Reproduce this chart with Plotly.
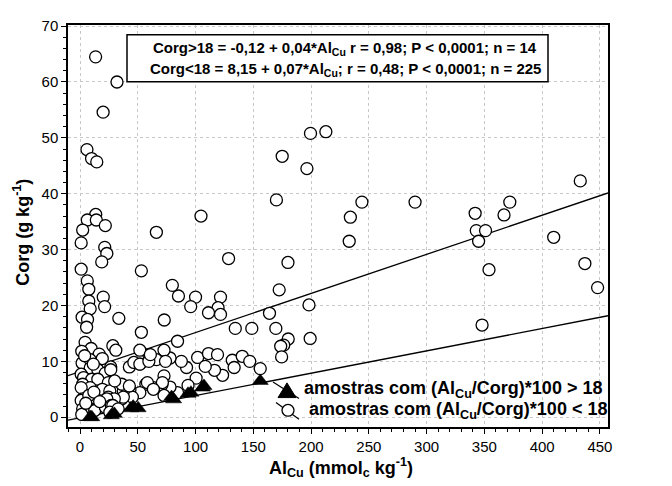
import plotly.graph_objects as go

# ---- data ----
circ_x = [13.5, 32.0, 20.0, 6.0, 10.0, 14.5, 13.6, 6.3, 14.1, 21.9, 2.3, 1.0, 21.4, 23.2, 18.8, 1.0, 6.3,
          7.6, 7.6, 8.8, 1.8, 6.5, 5.7, 20.1, 21.3, 33.6,
          104.7, 66.1, 128.6, 53.1, 79.9, 85.2, 100.0, 95.8, 121.6, 119.5, 121.6, 111.2, 72.9, 53.1, 84.4,
          199.5, 212.8, 175.0, 196.4, 433.0, 170.0, 244.0, 290.0, 372.0, 342.0, 367.0, 234.0, 343.0, 351.0,
          345.0, 410.0, 233.0, 180.0, 354.0, 437.0, 448.0, 172.4, 198.2, 164.0, 134.4, 148.7, 169.5, 348.0,
          199.2, 180.2, 176.3, 173.7, 174.5, 101.8, 111.2, 119.0, 131.8, 140.4, 146.9, 156.0, 133.4, 123.4,
          116.4, 108.4, 92.2, 87.7, 77.9, 72.7, 66.1, 59.6, 51.8, 51.8, 42.7, 46.6, 51.8, 59.6, 74.0,
          100.5, 93.5, 84.4, 77.9, 72.7, 70.9, 63.5, 57.0, 51.8, 43.2, 45.3, 72.7, 37.5, 36.2, 36.2, 37.5,
          4.4, 9.6, 16.6, 19.3, 28.4, 31.0, 1.8, 8.8, 8.8, 1.0, 15.4, 21.9, 26.6, 3.1, 10.2, 15.4, 24.5,
          2.3, 19.3, 25.8, 8.8, 1.0, 24.5, 29.7, 23.2, 2.3, 1.0, 7.6, 2.3, 8.8, 14.1, 12.7, 21.9, 27.1,
          28.4, 25.8, 42.7, 58.3, 71.3, 63.5, 26.6, 60.9, 1.5, 1.5, 5.0, 12.0, 17.0, 33.0, 30.0, 11.5, 4.0]
circ_y = [64.5, 60.0, 54.6, 47.9, 46.3, 45.7, 36.3, 35.3, 35.3, 34.3, 33.5, 31.2, 30.4, 29.3, 27.8, 26.5, 24.4,
          22.9, 20.8, 19.4, 17.9, 17.5, 16.1, 21.5, 19.8, 17.7,
          36.0, 33.1, 28.4, 26.2, 23.6, 21.7, 21.5, 19.8, 21.5, 19.6, 18.4, 18.7, 17.4, 15.2, 13.6,
          50.8, 51.1, 46.7, 44.5, 42.3, 38.9, 38.5, 38.5, 38.5, 36.5, 36.2, 35.8, 33.4, 33.4,
          31.5, 32.2, 31.5, 27.7, 26.4, 27.5, 23.2, 22.8, 20.1, 18.6, 15.9, 15.9, 15.9, 16.5,
          14.1, 14.0, 12.9, 12.7, 10.8, 10.7, 11.4, 11.2, 10.2, 10.9, 10.0, 8.7, 8.9, 7.5,
          8.4, 9.1, 8.9, 10.0, 10.6, 12.0, 10.3, 11.2, 12.0, 9.5, 9.0, 9.8, 9.5, 10.0, 10.0,
          7.0, 5.7, 4.4, 5.4, 7.4, 5.8, 5.3, 5.9, 4.4, 4.9, 3.6, 3.9, 4.7, 5.9, 3.3, 3.6,
          13.4, 12.3, 11.3, 10.5, 12.8, 12.0, 9.7, 10.3, 8.8, 7.7, 8.5, 7.9, 9.0, 7.1, 6.8, 6.8, 6.2,
          5.9, 5.0, 4.7, 5.3, 5.3, 3.6, 3.3, 3.3, 3.3, 3.0, 3.9, 1.5, 1.5, 1.5, 1.2, 1.8, 2.1,
          2.1, 0.9, 5.6, 6.2, 6.2, 5.0, 8.5, 11.2, 0.5, 11.8, 2.5, 4.5, 2.8, 1.5, 6.5, 9.5, 11.0]

tri_x = [8.8, 10.2, 27.1, 29.7, 44.0, 46.0, 50.3, 79.2, 81.0, 93.5, 96.0, 106.0, 107.3, 156.0]
tri_y = [0.05, 0.0, 0.35, 0.6, 1.6, 1.9, 1.6, 3.6, 3.2, 4.2, 4.4, 5.3, 5.6, 6.5]

# regression lines from the equations shown in the chart: intercept, slope
line_names = ["Corg<18", "Corg>18"]
line_intercepts = [8.15, -0.12]
line_slopes = [0.07, 0.04]
line_x = [-10.4, 457]

x_ticks = [0, 50, 100, 150, 200, 250, 300, 350, 400, 450]
y_ticks = [0, 10, 20, 30, 40, 50, 60, 70]

eq_lines = ["Corg>18 = -0,12 + 0,04*Al<sub>Cu</sub> r = 0,98; P < 0,0001; n = 14",
            "Corg<18 = 8,15 + 0,07*Al<sub>Cu</sub>; r = 0,48; P < 0,0001; n = 225"]
legend_labels = ["amostras com (Al<sub>Cu</sub>/Corg)*100 > 18",
                 " amostras com (Al<sub>Cu</sub>/Corg)*100 < 18"]

# ---- layout geometry (screen pixels; the page body adds an 8 px offset) ----
OFF = 8
W, H = 672 - OFF, 486 - OFF
L, R, T, B = 68, 608, 17, 427          # plot frame on screen


def px(x):
    return (x - L) / (R - L)


def py(y):
    return (B - y) / (B - T)


FONT = "Liberation Sans, Arial, sans-serif"

fig = go.Figure()

for b0, b1 in zip(line_intercepts, line_slopes):
    fig.add_trace(go.Scatter(x=line_x, y=[b0 + b1 * v for v in line_x], mode="lines",
                             line=dict(color="black", width=1.3), showlegend=False,
                             hoverinfo="skip"))

fig.add_trace(go.Scatter(x=circ_x, y=circ_y, mode="markers", showlegend=False,
                         marker=dict(symbol="circle", size=12, color="white",
                                     line=dict(color="black", width=1.3))))
fig.add_trace(go.Scatter(x=tri_x, y=tri_y, mode="markers", showlegend=False,
                         marker=dict(symbol="triangle-up", size=14, color="black",
                                     line=dict(color="black", width=0.5))))

axis_common = dict(showline=True, linecolor="black", linewidth=1.5, mirror=True,
                   ticks="outside", ticklen=5, tickcolor="black", tickwidth=1,
                   showgrid=True, gridcolor="#c8c8c8", griddash="dot", gridwidth=1,
                   zeroline=False, tickfont=dict(family=FONT, size=15, color="black"))

fig.update_xaxes(range=[-10.4, 457], tickvals=x_ticks, ticktext=[str(v) for v in x_ticks],
                 minor=dict(dtick=10, tick0=0, ticks="outside", ticklen=3, tickcolor="black",
                            showgrid=False),
                 **axis_common)
fig.update_yaxes(range=[-1.75, 70.2], tickvals=y_ticks, ticktext=[str(v) for v in y_ticks],
                 minor=dict(dtick=2, tick0=0, ticks="outside", ticklen=3, tickcolor="black",
                            showgrid=False),
                 **axis_common)

shapes = []
# equation box
shapes.append(dict(type="rect", xref="paper", yref="paper", x0=px(127), x1=px(548),
                   y0=py(75), y1=py(27), line=dict(color="black", width=1.5),
                   fillcolor="white", layer="above"))
# legend symbols: diagonal segments
shapes.append(dict(type="line", xref="paper", yref="paper", x0=px(273), y0=py(381),
                   x1=px(299), y1=py(398), line=dict(color="black", width=1.2)))
shapes.append(dict(type="line", xref="paper", yref="paper", x0=px(276), y0=py(402),
                   x1=px(299), y1=py(419), line=dict(color="black", width=1.2)))
# triangle
tri_path = "M {} {} L {} {} L {} {} Z".format(px(287), py(382), px(278), py(397), px(296), py(397))
shapes.append(dict(type="path", xref="paper", yref="paper", path=tri_path,
                   fillcolor="black", line=dict(color="black", width=1)))
# circle
shapes.append(dict(type="circle", xref="paper", yref="paper", x0=px(282), x1=px(294),
                   y0=py(416), y1=py(404), fillcolor="white",
                   line=dict(color="black", width=1.3)))

annotations = []
eq_y = [41, 62]
for txt, yy in zip(eq_lines, eq_y):
    annotations.append(dict(xref="paper", yref="paper", x=px(345), y=py(yy), text="<b>" + txt + "</b>",
                            showarrow=False, xanchor="center", yanchor="middle",
                            font=dict(family=FONT, size=15, color="black")))
leg_pos = [(302, 389), (302, 410)]
for txt, (lx, ly) in zip(legend_labels, leg_pos):
    annotations.append(dict(xref="paper", yref="paper", x=px(lx), y=py(ly), text="<b>" + txt + "</b>",
                            showarrow=False, xanchor="left", yanchor="middle",
                            font=dict(family=FONT, size=18, color="black")))
annotations.append(dict(xref="paper", yref="paper", x=px(341), y=py(468),
                        text="<b>Al<sub>Cu</sub> (mmol<sub>c</sub> kg<sup>-1</sup>)</b>",
                        showarrow=False, xanchor="center", yanchor="middle",
                        font=dict(family=FONT, size=18, color="black")))
annotations.append(dict(xref="paper", yref="paper", x=px(22), y=py(229),
                        text="<b>Corg (g kg<sup>-1</sup>)</b>", textangle=-90,
                        showarrow=False, xanchor="center", yanchor="middle",
                        font=dict(family=FONT, size=18, color="black")))

fig.update_layout(width=W, height=H,
                  margin=dict(l=L - OFF, r=W - (R - OFF), t=T - OFF, b=H - (B - OFF)),
                  paper_bgcolor="white", plot_bgcolor="white",
                  shapes=shapes, annotations=annotations, showlegend=False,
                  font=dict(family=FONT, color="black"))

fig.write_html("out.html")
